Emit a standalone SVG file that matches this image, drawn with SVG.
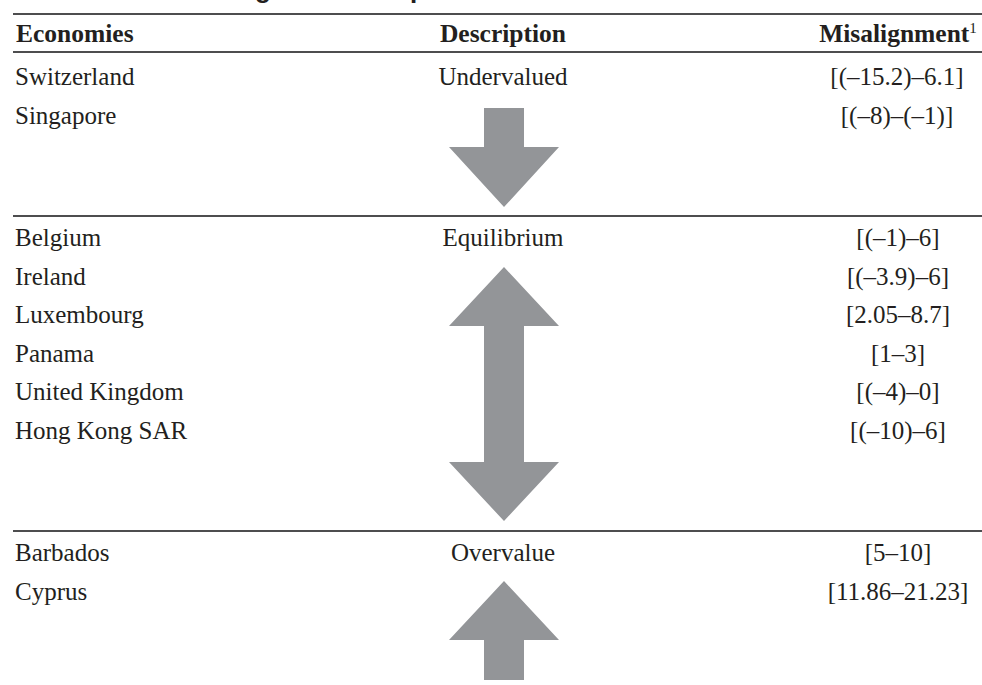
<svg xmlns="http://www.w3.org/2000/svg" width="982" height="685" viewBox="0 0 982 685">
<style>
.t{font-family:"Liberation Serif","Times New Roman",serif;font-size:25px;fill:#231f20}
.h{font-weight:bold;font-size:25.5px}
.c{text-anchor:middle}
.r{text-anchor:middle}
.rule{stroke:#4d4d4f;stroke-width:2}
.arrow{fill:#939598}
.title{font-family:"Liberation Sans",Arial,sans-serif;font-weight:bold;font-size:26px;fill:#231f20}
</style>
<rect width="982" height="685" fill="#ffffff"/>
<g id="title">
<text class="title" x="255" y="-2">g</text>
<text class="title" x="410" y="-2">p</text>
</g>
<g id="rules">
<line class="rule" x1="13" y1="14" x2="982" y2="14" stroke="#3a3a3c"/>
<line class="rule" x1="13" y1="52" x2="982" y2="52"/>
<line class="rule" x1="13" y1="216" x2="982" y2="216"/>
<line class="rule" x1="13" y1="531" x2="982" y2="531"/>
</g>
<g id="header">
<text class="t h" x="16" y="42">Economies</text>
<text class="t h c" x="503" y="42">Description</text>
<text class="t h r" x="898" y="42">Misalignment<tspan font-size="15" font-weight="normal" dy="-9">1</tspan></text>
</g>
<g id="undervalued">
<text class="t" x="15" y="85">Switzerland</text>
<text class="t" x="15" y="123.5">Singapore</text>
<text class="t c" x="503" y="85">Undervalued</text>
<text class="t r" x="897" y="85">[(–15.2)–6.1]</text>
<text class="t r" x="897" y="123.5">[(–8)–(–1)]</text>
</g>
<g id="equilibrium">
<text class="t" x="15" y="246">Belgium</text>
<text class="t" x="15" y="284.5">Ireland</text>
<text class="t" x="15" y="323">Luxembourg</text>
<text class="t" x="15" y="361.5">Panama</text>
<text class="t" x="15" y="400">United Kingdom</text>
<text class="t" x="15" y="438.5">Hong Kong SAR</text>
<text class="t c" x="503" y="246">Equilibrium</text>
<text class="t r" x="898" y="246">[(–1)–6]</text>
<text class="t r" x="898" y="284.5">[(–3.9)–6]</text>
<text class="t r" x="898" y="323">[2.05–8.7]</text>
<text class="t r" x="898" y="361.5">[1–3]</text>
<text class="t r" x="898" y="400">[(–4)–0]</text>
<text class="t r" x="898" y="438.5">[(–10)–6]</text>
</g>
<g id="overvalue">
<text class="t" x="15" y="561">Barbados</text>
<text class="t" x="15" y="599.5">Cyprus</text>
<text class="t c" x="503" y="561">Overvalue</text>
<text class="t r" x="898" y="561">[5–10]</text>
<text class="t r" x="898" y="599.5">[11.86–21.23]</text>
</g>
<g id="connectors">
<polygon class="arrow" points="484,108 524,108 524,147 559,147 504,207 449,147 484,147"/>
<polygon class="arrow" points="504,267 559,326 524,326 524,462 559,462 504,521 449,462 484,462 484,326 449,326"/>
<polygon class="arrow" points="504,581 559,640 524,640 524,680 484,680 484,640 449,640"/>
</g>
</svg>
